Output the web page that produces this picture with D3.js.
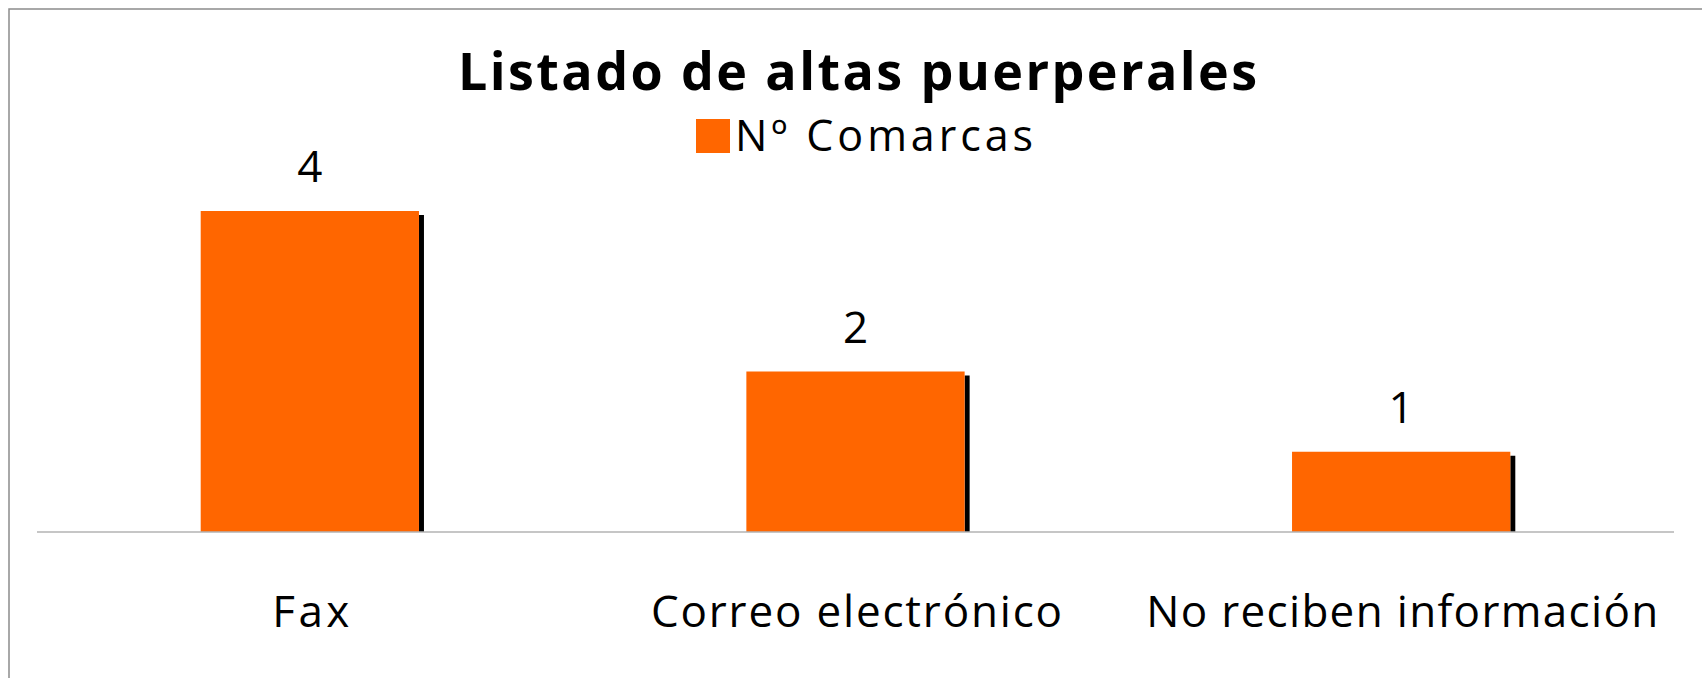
<!DOCTYPE html>
<html>
<head>
<meta charset="utf-8">
<script src="https://cdn.jsdelivr.net/npm/d3@7"></script>
<style>
  body { margin: 0; background: #fff; }
  text { font-family: 'Open Sans', sans-serif; fill: #000; }
</style>
</head>
<body>
<div id="chart"></div>
<script>
const categories = ['Fax', 'Correo electrónico', 'No reciben información'];
const values = [4, 2, 1];
const seriesName = 'Nº Comarcas';
const title = 'Listado de altas puerperales';

const size = { width: 1702, height: 678 };
const baseline = 532;

const svg = d3.select('#chart').append('svg')
  .attr('width', size.width)
  .attr('height', size.height);

// chart frame (only top/left edges are visible in the picture)
svg.append('rect')
  .attr('x', 9).attr('y', 9)
  .attr('width', size.width + 20).attr('height', size.height + 20)
  .attr('fill', 'none')
  .attr('stroke', '#8c8c8c')
  .attr('stroke-width', 1.5);

const x = d3.scaleBand()
  .domain(categories)
  .range([37, 1674])
  .paddingInner(0.6)
  .paddingOuter(0.3);

const y = d3.scaleLinear()
  .domain([0, 4])
  .range([baseline, 211]);

const data = categories.map((c, i) => ({ cat: c, val: values[i] }));

// shadow on the right of each bar
svg.append('g')
  .selectAll('rect')
  .data(data)
  .enter()
  .append('rect')
  .attr('x', (d) => x(d.cat) + x.bandwidth())
  .attr('y', (d) => y(d.val) + 4)
  .attr('width', 5)
  .attr('height', (d) => baseline - y(d.val) - 4)
  .attr('fill', '#000');

svg.append('g')
  .selectAll('rect')
  .data(data)
  .enter()
  .append('rect')
  .attr('x', (d) => x(d.cat))
  .attr('y', (d) => y(d.val))
  .attr('width', x.bandwidth())
  .attr('height', (d) => baseline - y(d.val))
  .attr('fill', '#ff6600');

// category axis line
svg.append('line')
  .attr('x1', x.range()[0]).attr('x2', x.range()[1])
  .attr('y1', baseline).attr('y2', baseline)
  .attr('stroke', '#b3b3b3')
  .attr('stroke-width', 1.5);

// value labels
svg.append('g')
  .selectAll('text')
  .data(data)
  .enter()
  .append('text')
  .attr('x', (d) => x(d.cat) + x.bandwidth() / 2)
  .attr('y', (d) => y(d.val) - 29)
  .attr('text-anchor', 'middle')
  .attr('font-size', 44)
  .text((d) => d.val);

// category labels
const labelWidths = [77, 411, 512];
svg.append('g')
  .selectAll('text')
  .data(data)
  .enter()
  .append('text')
  .attr('x', (d) => x(d.cat) + x.bandwidth() / 2 + 1)
  .attr('y', 627)
  .attr('text-anchor', 'middle')
  .attr('font-size', 44)
  .attr('textLength', (d, i) => labelWidths[i])
  .attr('lengthAdjust', 'spacing')
  .text((d) => d.cat);

// title
svg.append('text')
  .attr('x', 857.5)
  .attr('y', 90)
  .attr('text-anchor', 'middle')
  .attr('font-size', 52)
  .attr('font-weight', 'bold')
  .attr('textLength', 799)
  .attr('lengthAdjust', 'spacing')
  .text(title);

// legend
const legend = svg.append('g');
legend.append('rect')
  .attr('x', 696).attr('y', 119)
  .attr('width', 34).attr('height', 34)
  .attr('fill', '#ff6600');
legend.append('text')
  .attr('x', 735)
  .attr('y', 151)
  .attr('font-size', 43)
  .attr('textLength', 298)
  .attr('lengthAdjust', 'spacing')
  .text(seriesName);
</script>
</body>
</html>
